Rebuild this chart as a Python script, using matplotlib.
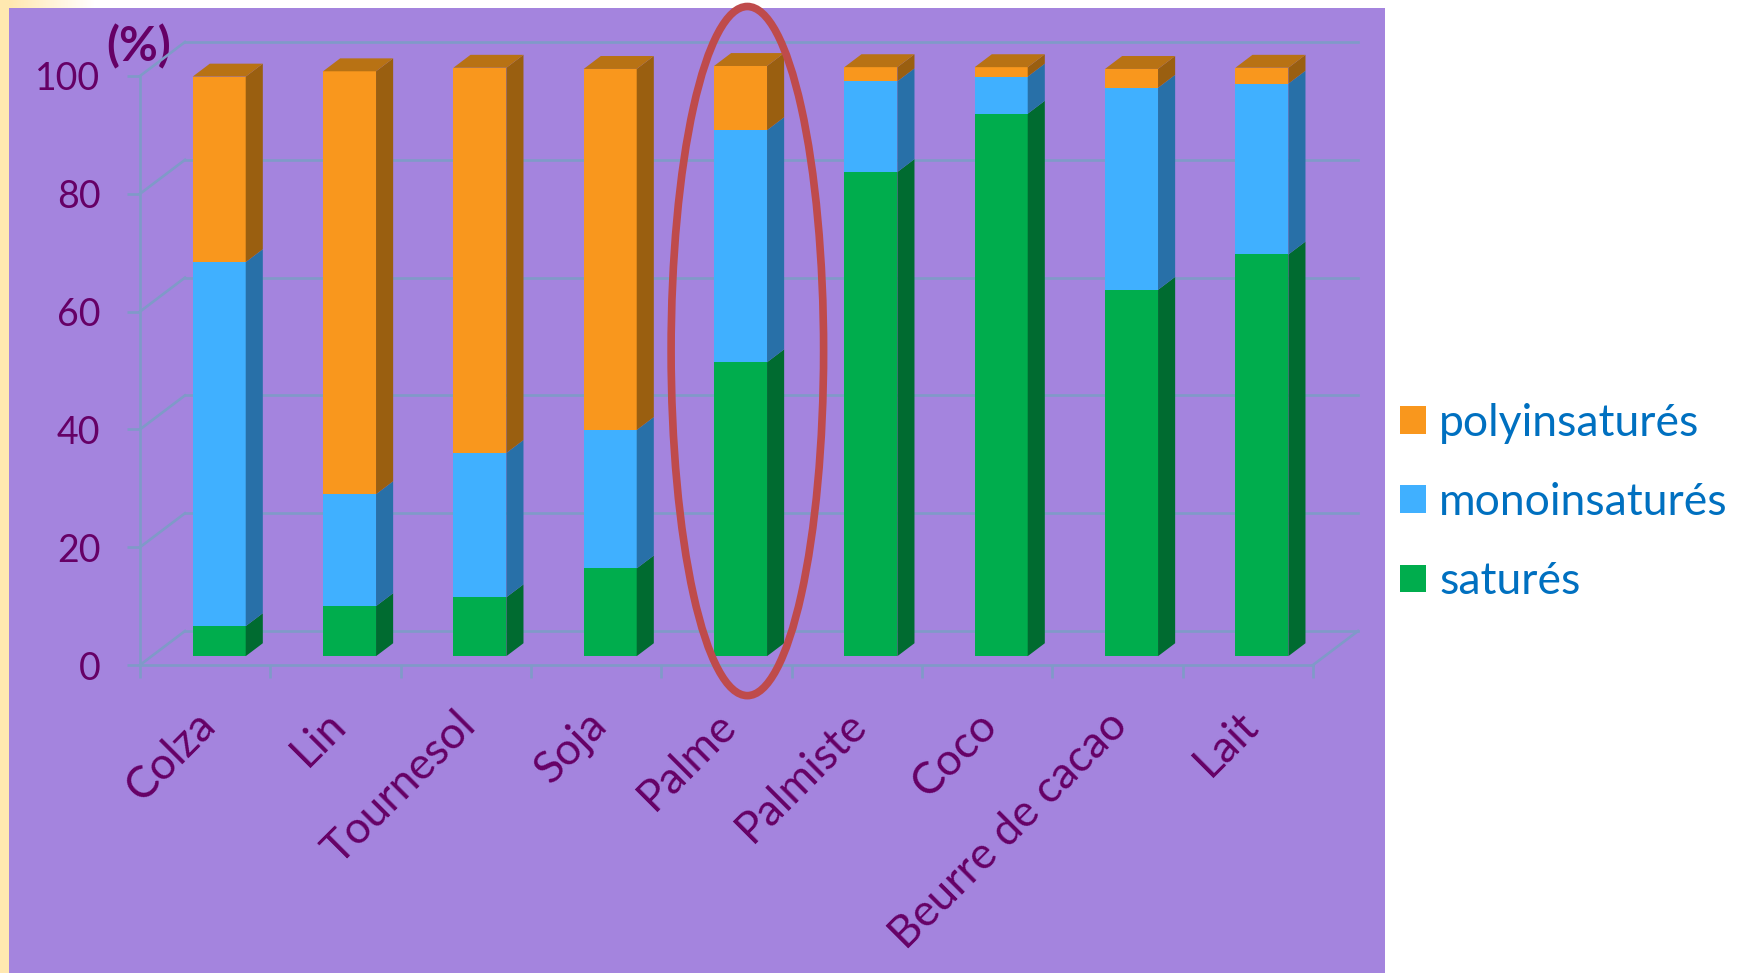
import numpy as np
import matplotlib; matplotlib.use('Agg')
import matplotlib.pyplot as plt
from matplotlib.patches import Ellipse, Patch, Rectangle
from matplotlib.transforms import ScaledTranslation

# bar heights, in %
cats=["Colza","Lin","Tournesol","Soja","Palme","Palmiste","Coco","Beurre de cacao","Lait"]
satures=[5.1,8.5,10.0,14.9,49.9,82.2,92.1,62.2,68.2]
mono=[61.8,19.0,24.5,23.5,39.4,15.4,6.3,34.3,29.0]
poly=[31.5,71.8,65.4,61.3,10.9,2.4,1.6,3.2,2.7]
yticks=[0,20,40,60,80,100]
names=["saturés","monoinsaturés","polyinsaturés"]

W,H=1740,973
PURP="#A484DE";GRID="#7F9AC8";TXT="#660066";LEG="#0070C0"
FACE=["#00AD4D","#40B0FF","#F9971D"]
SIDE=["#006B30","#2870A8","#9A5F10"]
TOPC=["#008A3D","#3390CC","#B87214"]
plt.rcParams['font.family']=['Lato','DejaVu Sans']

fig=plt.figure(figsize=(W/100,H/100),dpi=100,facecolor='white')
# page background: cream strip on the left and fading along the top
bg=fig.add_axes([0,0,1,1]); bg.set_xlim(0,W); bg.set_ylim(H,0); bg.axis('off')
fade=np.linspace(0,1,64)[None,:,None]*(np.array([1,1,1])-np.array([1,0.91,0.69]))+np.array([1,0.91,0.69])
bg.imshow(fade,extent=[9,95,8,0],aspect='auto',zorder=1)
bg.set_xlim(0,W); bg.set_ylim(H,0)
bg.add_patch(Rectangle((0,0),9,H,color="#FFE8B0",lw=0,zorder=1))
bg.add_patch(Rectangle((9,8),1376,H-8,color=PURP,lw=0,zorder=2))
bg.text(139,47,"(%)",color=TXT,fontsize=34,fontweight='bold',ha='center',va='center',zorder=3)

# main axes = front plane of the 3d box
x0,x1,y0,y1=140,1313,665,76
ax=fig.add_axes([x0/W,1-y0/H,(x1-x0)/W,(y0-y1)/H]); ax.patch.set_alpha(0)
ax.set_xlim(-0.5,8.5); ax.set_ylim(0,100)
ux=(x1-x0)/9; uy=(y0-y1)/100
def depth(d):  # offset of a depth d along the back wall diagonal, in data units
    return d*45/ux, d*34/uy
bdx,bdy=depth(1.0)

# walls and floor
for v in yticks:
    ax.plot([-0.5,-0.5+bdx],[v,v+bdy],color=GRID,lw=1.9,clip_on=False,zorder=1)
    ax.plot([-0.5+bdx,8.5+bdx],[v+bdy,v+bdy],color=GRID,lw=1.9,clip_on=False,zorder=1)
ax.plot([8.5,8.5+bdx],[0,bdy],color=GRID,lw=1.9,clip_on=False,zorder=1)

for s in ['top','right']: ax.spines[s].set_visible(False)
for s in ['left','bottom']: ax.spines[s].set_color(GRID); ax.spines[s].set_linewidth(1.9)
ax.set_yticks(yticks); ax.tick_params(axis='y',length=9.5,width=1.9,color=GRID,labelcolor=TXT,labelsize=27,pad=19)
ax.set_xticks(np.arange(9)); ax.set_xticklabels(cats,rotation=45,ha='right',va='top',rotation_mode='anchor',color=TXT,fontsize=32)
ax.tick_params(axis='x',which='major',length=0,pad=28)
ax.set_xticks(np.arange(-0.5,9,1),minor=True); ax.tick_params(axis='x',which='minor',length=9.5,width=1.9,color=GRID)
shift=ScaledTranslation(-11/100,0,fig.dpi_scale_trans)
for t in ax.get_xticklabels(): t.set_transform(t.get_transform()+shift)

# bars with their side and top faces
fx,fy=depth(0.26); sx,sy=depth(0.38)
bw=53/ux
xs=np.arange(9)+fx+0.018
bot=np.full(9,fy)
series=[satures,mono,poly]
for k,vals in enumerate(series):
    vals=np.array(vals)
    ax.bar(xs,vals,width=bw,bottom=bot,color=FACE[k],lw=0,zorder=3,clip_on=False)
    for i in range(9):
        r=xs[i]+bw/2; b=bot[i]; t=b+vals[i]
        ax.fill([r,r+sx,r+sx,r],[b,b+sy,t+sy,t],color=SIDE[k],lw=0,zorder=3,clip_on=False)
    bot=bot+vals
for i in range(9):
    l=xs[i]-bw/2; r=xs[i]+bw/2; t=bot[i]
    ax.fill([l,r,r+sx,l+sx],[t,t,t+sy,t+sy],color=TOPC[2],lw=0,zorder=3,clip_on=False)

# ring around Palme
ax.add_patch(Ellipse((4.16,53.3),width=1.17,height=117,fill=False,ec="#BF4B4B",lw=5.5,zorder=5,clip_on=False))

hs=[Patch(color=FACE[k],lw=0) for k in (2,1,0)]
fig.legend(hs,names[::-1],loc='center left',bbox_to_anchor=(1400/W,1-502.5/H),frameon=False,fontsize=32,labelcolor=LEG,
           handlelength=0.58,handleheight=0.58,handletextpad=0.3,labelspacing=0.86,borderpad=0,borderaxespad=0)
plt.savefig("out.png",dpi=100,facecolor='white')
plt.close()
